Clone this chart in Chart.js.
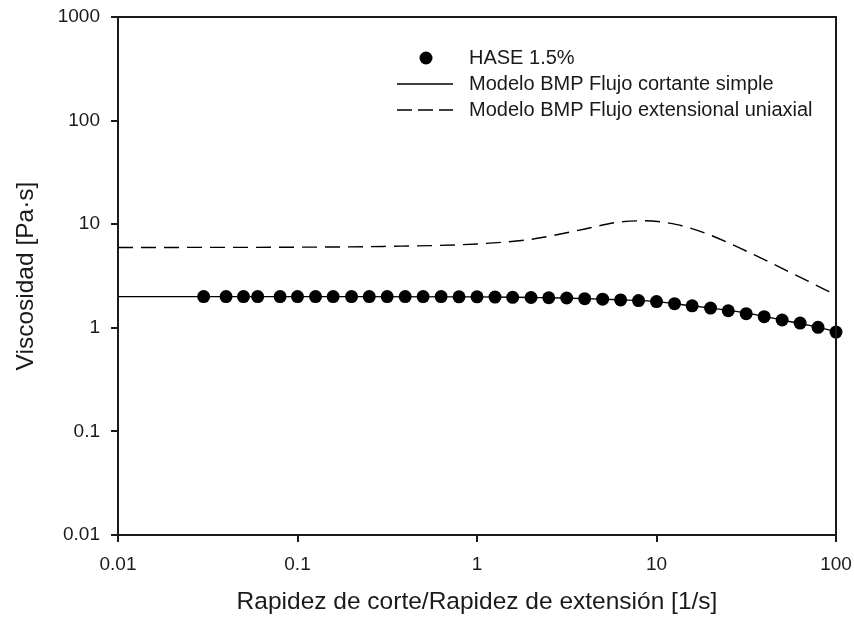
<!DOCTYPE html>
<html>
<head>
<meta charset="utf-8">
<script src="https://cdn.jsdelivr.net/npm/chart.js@4.4.1/dist/chart.umd.min.js"></script>
<style>
  html, body { margin: 0; padding: 0; background: #fff; }
  #wrap { width: 854px; height: 617px; }
</style>
</head>
<body>
<div id="wrap"><canvas id="c" width="854" height="617"></canvas></div>
<script>
// ---- Data ----
const rateData = [0.03, 0.04, 0.05, 0.06, 0.08,
  0.1, 0.126, 0.158, 0.2, 0.251, 0.316, 0.398, 0.501, 0.631, 0.794,
  1, 1.26, 1.58, 2.0, 2.51, 3.16, 3.98, 5.01, 6.31, 7.94,
  10, 12.6, 15.8, 20, 25.1, 31.6, 39.8, 50.1, 63.1, 79.4, 100];
const viscData = [2.0, 2.0, 2.0, 2.0, 2.0,
  2.0, 2.0, 2.0, 2.0, 2.0, 2.0, 2.0, 2.0, 2.0, 1.99,
  1.99, 1.98, 1.97, 1.96, 1.95, 1.94, 1.91, 1.89, 1.86, 1.83,
  1.79, 1.71, 1.63, 1.55, 1.46, 1.37, 1.28, 1.19, 1.11, 1.01, 0.91];

const shearRate = [0.01, 0.1, 1, 2, 3, 5, 7, 10, 15, 20, 30, 50, 70, 100];
const shearVisc = [2.0, 2.0, 1.99, 1.96, 1.94, 1.89, 1.85, 1.79, 1.65, 1.55, 1.41, 1.19, 1.06, 0.92];

const extRate = [0.01, 0.1, 0.3, 1, 2, 4, 6, 8.6, 13, 19, 29, 45, 69, 100];
const extVisc = [5.96, 6.0, 6.1, 6.45, 7.15, 9.0, 10.4, 10.8, 9.9, 8.1, 5.9, 4.1, 2.85, 2.07];

const xTicks = [0.01, 0.1, 1, 10, 100];
const yTicks = [0.01, 0.1, 1, 10, 100, 1000];

const legendLabels = ["HASE 1.5%", "Modelo BMP Flujo cortante simple", "Modelo BMP Flujo extensional uniaxial"];
const xTitle = "Rapidez de corte/Rapidez de extensión [1/s]";
const yTitle = "Viscosidad [Pa·s]";

const pts = (xs, ys) => xs.map((x, i) => ({ x: x, y: ys[i] }));

const FONT = "'Liberation Sans', Arial, sans-serif";
const INK = '#1a1a1a';

const framePlugin = {
  id: 'frame',
  afterDraw(chart) {
    const { ctx, chartArea: a } = chart;
    ctx.save();
    ctx.strokeStyle = INK;
    ctx.lineWidth = 2;
    ctx.beginPath();
    ctx.moveTo(a.left, a.top);
    ctx.lineTo(a.right, a.top);
    ctx.lineTo(a.right, a.bottom);
    ctx.stroke();
    // legend
    const lx0 = 397, lx1 = 453, tx = 469;
    const rows = [58, 84, 110];
    ctx.fillStyle = '#000';
    ctx.beginPath();
    ctx.arc(426, rows[0], 6.5, 0, Math.PI * 2);
    ctx.fill();
    ctx.strokeStyle = '#000';
    ctx.lineWidth = 1.4;
    ctx.beginPath();
    ctx.moveTo(lx0, rows[1]); ctx.lineTo(lx1, rows[1]);
    ctx.stroke();
    ctx.setLineDash([15, 6]);
    ctx.beginPath();
    ctx.moveTo(lx0, rows[2]); ctx.lineTo(lx1, rows[2]);
    ctx.stroke();
    ctx.setLineDash([]);
    ctx.font = '20px ' + FONT;
    ctx.fillStyle = INK;
    ctx.textBaseline = 'middle';
    ctx.textAlign = 'left';
    legendLabels.forEach((t, i) => ctx.fillText(t, tx, rows[i]));
    ctx.restore();
  }
};

new Chart(document.getElementById('c'), {
  type: 'scatter',
  data: {
    datasets: [
      {
        label: legendLabels[2],
        data: pts(extRate, extVisc),
        showLine: true,
        borderColor: '#000',
        borderWidth: 1.4,
        borderDash: [15, 8],
        pointRadius: 0,
        cubicInterpolationMode: 'monotone',
        clip: false
      },
      {
        label: legendLabels[1],
        data: pts(shearRate, shearVisc),
        showLine: true,
        borderColor: '#000',
        borderWidth: 1.4,
        pointRadius: 0,
        cubicInterpolationMode: 'monotone',
        clip: false
      },
      {
        label: legendLabels[0],
        data: pts(rateData, viscData),
        showLine: false,
        pointRadius: 6.5,
        pointBackgroundColor: '#000',
        pointBorderColor: '#000',
        pointBorderWidth: 0,
        clip: false
      }
    ]
  },
  options: {
    responsive: false,
    animation: false,
    devicePixelRatio: 1,
    layout: { padding: { top: 17, right: 18, left: 0, bottom: 0 } },
    plugins: { legend: { display: false }, tooltip: { enabled: false } },
    scales: {
      x: {
        type: 'logarithmic',
        min: 0.01, max: 100,
        afterBuildTicks: s => { s.ticks = xTicks.map(v => ({ value: v })); },
        afterFit: s => { s.height = 82; s.paddingLeft = 0; s.paddingRight = 0; },
        grid: { drawOnChartArea: false, drawTicks: true, tickLength: 7, color: INK, lineWidth: 2 },
        border: { display: true, color: INK, width: 2 },
        ticks: {
          color: INK, padding: 11, maxRotation: 0, autoSkip: false,
          font: { family: FONT, size: 19 },
          callback: v => String(v)
        },
        title: {
          display: true, text: xTitle, color: INK,
          font: { family: FONT, size: 24.5 },
          padding: { top: 0, bottom: 0 }
        }
      },
      y: {
        type: 'logarithmic',
        min: 0.01, max: 1000,
        afterBuildTicks: s => { s.ticks = yTicks.map(v => ({ value: v })); },
        afterFit: s => { s.width = 118; s.paddingTop = 0; s.paddingBottom = 0; },
        grid: { drawOnChartArea: false, drawTicks: true, tickLength: 7, color: INK, lineWidth: 2 },
        border: { display: true, color: INK, width: 2 },
        ticks: {
          color: INK, padding: 11, autoSkip: false,
          font: { family: FONT, size: 19 },
          callback: v => String(v)
        },
        title: {
          display: true, text: yTitle, color: INK,
          font: { family: FONT, size: 24.5 },
          padding: { top: 12, bottom: 0 }
        }
      }
    }
  },
  plugins: [framePlugin]
});
</script>
</body>
</html>
